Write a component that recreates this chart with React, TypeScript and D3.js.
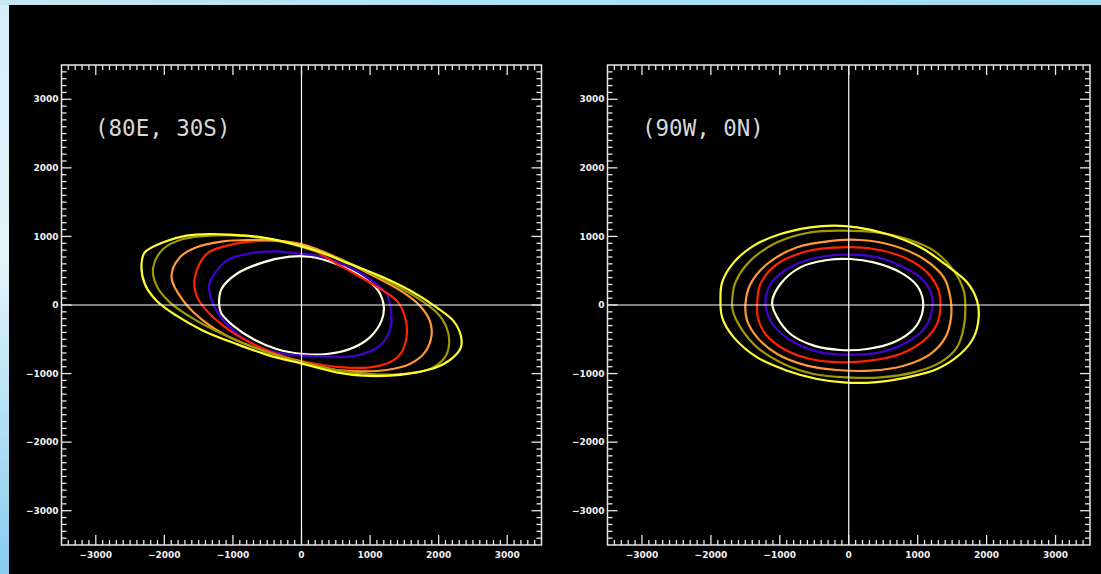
import React from "react";
import * as d3 from "d3";

// ---------- data (km-like units) ----------
const tickValues = [-3000, -2000, -1000, 0, 1000, 2000, 3000];
const domainExtent = [-3500, 3500];

const titleLeft = "(80E, 30S)";
const titleRight = "(90W, 0N)";

const contourColors = ["#FFFFE4", "#4400D0", "#FF2200", "#FF9933", "#A09A00", "#FFFF30"];

// Panel 1: (80E, 30S)
const a_white: [number, number][] = [
  [-1201, 15], [-1167, 233], [-948, 452], [-559, 622], [-170, 705], [122, 705], [510, 598],
  [899, 403], [1118, 209], [1201, -34], [1167, -228], [997, -472], [705, -642], [365, -715],
  [24, -715], [-365, -642], [-705, -496], [-997, -300], [-1170, -120],
];
const a_blue: [number, number][] = [
  [-1337, 331], [-1094, 647], [-802, 744], [-413, 783], [-73, 753], [219, 719], [608, 598],
  [997, 379], [1240, 160], [1312, -180], [1288, -374], [1142, -593], [802, -739], [413, -753],
  [24, -739], [-365, -690], [-705, -569], [-1045, -326], [-1240, -83], [-1337, 160],
];
const a_red: [number, number][] = [
  [-1556, 403], [-1385, 744], [-1094, 865], [-705, 928], [-316, 928], [73, 841], [608, 549],
  [1191, 209], [1410, 39], [1522, -228], [1531, -472], [1458, -690], [1288, -836], [997, -909],
  [608, -909], [219, -860], [-219, -763], [-656, -593], [-1045, -374], [-1361, -107], [-1531, 136],
];
const a_orange: [number, number][] = [
  [-1896, 403], [-1774, 695], [-1531, 841], [-1142, 928], [-753, 948], [-365, 938], [24, 880],
  [510, 695], [997, 452], [1483, 185], [1726, -10], [1871, -228], [1896, -447], [1799, -690],
  [1580, -860], [1240, -948], [851, -967], [413, -933], [-73, -812], [-559, -666], [-1045, -472],
  [-1434, -228], [-1726, 63],
];
const a_olive: [number, number][] = [
  [-2163, 549], [-2017, 817], [-1726, 962], [-1337, 1011], [-899, 1011], [-462, 962], [24, 841],
  [608, 647], [1191, 379], [1677, 112], [1969, -107], [2115, -326], [2153, -569], [2090, -763],
  [1872, -933], [1483, -1006], [997, -1006], [510, -948], [-73, -812], [-559, -666], [-1045, -472],
  [-1531, -228], [-1920, 39], [-2114, 282],
];
const a_yellow: [number, number][] = [
  [-2333, 598], [-2285, 768], [-2017, 914], [-1677, 1011], [-1337, 1035], [-1045, 1026],
  [-656, 997], [-219, 914], [219, 792], [705, 598], [1191, 403], [1628, 185], [1969, -34],
  [2212, -228], [2324, -447], [2324, -617], [2212, -763], [1969, -909], [1677, -982],
  [1288, -1031], [899, -1031], [510, -982], [24, -860], [-462, -739], [-948, -569],
  [-1434, -374], [-1823, -156], [-2114, 63], [-2285, 306],
];

// Panel 2: (90W, 0N)
const b_white: [number, number][] = [
  [-1112, 39], [-991, 306], [-701, 549], [-314, 656], [24, 671], [363, 622], [749, 476],
  [991, 282], [1078, 63], [1063, -131], [943, -350], [653, -544], [266, -642], [-121, -656],
  [-508, -593], [-846, -423], [-1039, -180],
];
const b_blue: [number, number][] = [
  [-1209, 63], [-1136, 306], [-894, 525], [-508, 681], [-24, 734], [411, 695], [798, 549],
  [1088, 355], [1209, 112], [1194, -131], [1088, -350], [846, -544], [459, -690], [24, -724],
  [-411, -690], [-798, -544], [-1088, -301], [-1194, -83],
];
const b_red: [number, number][] = [
  [-1329, 15], [-1281, 306], [-1039, 598], [-604, 783], [-121, 841], [363, 817], [798, 695],
  [1136, 476], [1305, 209], [1329, -34], [1281, -277], [1088, -520], [749, -715], [314, -812],
  [-121, -836], [-556, -788], [-943, -642], [-1209, -423], [-1320, -180],
];
const b_orange: [number, number][] = [
  [-1499, 15], [-1426, 306], [-1184, 598], [-749, 841], [-218, 938], [169, 948], [653, 865],
  [1088, 671], [1378, 403], [1474, 112], [1484, -180], [1402, -472], [1184, -715], [798, -885],
  [314, -958], [-169, -948], [-604, -885], [-1039, -715], [-1329, -472], [-1474, -228],
];
const b_olive: [number, number][] = [
  [-1692, 63], [-1644, 331], [-1426, 647], [-1039, 914], [-556, 1060], [-73, 1084], [411, 1060],
  [846, 962], [1233, 792], [1523, 501], [1668, 209], [1692, -34], [1668, -326], [1571, -617],
  [1329, -836], [943, -982], [459, -1055], [-24, -1055], [-508, -1006], [-943, -860],
  [-1329, -617], [-1571, -326], [-1682, -83],
];
const b_yellow: [number, number][] = [
  [-1861, 112], [-1837, 331], [-1668, 622], [-1378, 865], [-991, 1035], [-556, 1133],
  [-218, 1157], [121, 1133], [556, 1035], [1039, 841], [1426, 574], [1716, 331], [1861, 63],
  [1885, -180], [1813, -472], [1619, -715], [1281, -933], [846, -1055], [363, -1128],
  [-73, -1128], [-459, -1079], [-894, -958], [-1329, -763], [-1668, -472], [-1837, -180],
];

const panels = [
  { title: titleLeft, contours: [a_white, a_blue, a_red, a_orange, a_olive, a_yellow],
    left: 61.5, right: 541.5, top: 65, bottom: 545, titleX: 95 },
  { title: titleRight, contours: [b_white, b_blue, b_red, b_orange, b_olive, b_yellow],
    left: 607.5, right: 1090, top: 65, bottom: 545, titleX: 642 },
];

const W = 1101;
const H = 574;
const fg = "#E8E8E8";

function fmt(v: number) {
  return v < 0 ? "\u2212" + Math.abs(v) : String(v);
}

function Panel({ p }: { p: (typeof panels)[number] }) {
  const x = d3.scaleLinear().domain(domainExtent).range([p.left, p.right]);
  const y = d3.scaleLinear().domain(domainExtent).range([p.bottom, p.top]);
  const line = d3
    .line<[number, number]>()
    .x((d) => x(d[0]))
    .y((d) => y(d[1]))
    .curve(d3.curveCatmullRomClosed.alpha(0.5));
  const minor = d3.range(-3500, 3501, 100).filter((v) => v > -3500 && v < 3500);
  const isMajor = (v: number) => Math.abs(v % 1000) < 1e-6;
  const ML = 10, mL = 5;
  const drawOrder = [0, 1, 2, 3, 4, 5];
  return (
    <g>
      {drawOrder.map((i) => (
        <path key={i} d={line(p.contours[i]) || ""} fill="none" stroke={contourColors[i]}
          strokeWidth={2.2} strokeLinejoin="round" />
      ))}
      {/* zero lines */}
      <line x1={x(0)} x2={x(0)} y1={p.top} y2={p.bottom} stroke="#FFFFFF" strokeWidth={1.2} />
      <line x1={p.left} x2={p.right} y1={y(0)} y2={y(0)} stroke="#FFFFFF" strokeWidth={1.2} />
      {/* frame */}
      <rect x={p.left} y={p.top} width={p.right - p.left} height={p.bottom - p.top}
        fill="none" stroke={fg} strokeWidth={1.5} />
      {/* ticks */}
      {minor.map((v) => {
        const L = isMajor(v) ? ML : mL;
        return (
          <g key={v} stroke={fg} strokeWidth={1.3}>
            <line x1={x(v)} x2={x(v)} y1={p.bottom} y2={p.bottom - L} />
            <line x1={x(v)} x2={x(v)} y1={p.top} y2={p.top + L} />
            <line x1={p.left} x2={p.left + L} y1={y(v)} y2={y(v)} />
            <line x1={p.right} x2={p.right - L} y1={y(v)} y2={y(v)} />
          </g>
        );
      })}
      {/* tick labels */}
      {tickValues.map((v) => (
        <text key={"x" + v} x={x(v)} y={p.bottom + 13} textAnchor="middle"
          fontFamily="DejaVu Sans" fontSize={9} fontWeight="bold" fill="#F0F0F0">{fmt(v)}</text>
      ))}
      {tickValues.map((v) => (
        <text key={"y" + v} x={p.left - 3} y={y(v) + 3.2} textAnchor="end"
          fontFamily="DejaVu Sans" fontSize={9} fontWeight="bold" fill="#F0F0F0">{fmt(v)}</text>
      ))}
      {/* title */}
      <text x={p.titleX} y={136} fontFamily="DejaVu Sans Mono" fontSize={22.5} fill="#D8D8D8">
        {p.title}
      </text>
    </g>
  );
}

export default function App() {
  return (
    <svg width={W} height={H} style={{ position: "absolute", left: 0, top: 0, display: "block" }}>
      <defs>
        <linearGradient id="bgV" x1="0" y1="0" x2="0" y2="1">
          <stop offset="0" stopColor="#D4EEF8" />
          <stop offset="0.45" stopColor="#E4F4FA" />
          <stop offset="1" stopColor="#86CCEE" />
        </linearGradient>
        <linearGradient id="bgH" x1="0" y1="0" x2="1" y2="0">
          <stop offset="0" stopColor="#C8E6F2" />
          <stop offset="0.5" stopColor="#A8E2F6" />
          <stop offset="1" stopColor="#9EDCF4" />
        </linearGradient>
      </defs>
      <rect x={0} y={0} width={W} height={H} fill="url(#bgV)" />
      <rect x={0} y={0} width={W} height={5} fill="url(#bgH)" />
      <rect x={9} y={5} width={W - 9} height={H - 5} fill="#000" />
      {panels.map((p, i) => (
        <Panel key={i} p={p} />
      ))}
    </svg>
  );
}
